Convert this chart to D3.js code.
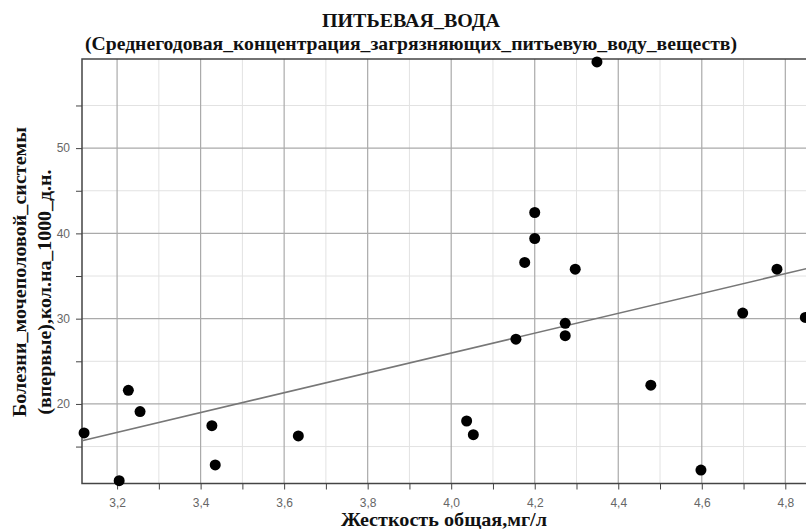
<!DOCTYPE html>
<html>
<head>
<meta charset="utf-8">
<script src="https://cdn.jsdelivr.net/npm/d3@7"></script>
<style>
  body { margin: 0; background: #fff; }
  svg { display: block; }
  .title, .axis-label { font-family: "Liberation Serif", "Times New Roman", serif; font-weight: bold; fill: #111; }
  .tick text { font-family: "Liberation Sans Narrow", "Liberation Sans", Arial, sans-serif; font-size: 12px; fill: #666; }
</style>
</head>
<body>
<svg></svg>
<script>
const svgWidth = 806;
const svgHeight = 529;
const svg = d3.select("svg").attr("width", svgWidth).attr("height", svgHeight);

// hardness, mg/l
const hardness = [3.121, 3.205, 3.227, 3.255, 3.427, 3.435, 3.634, 4.037, 4.053, 4.155, 4.176,
  4.200, 4.200, 4.273, 4.273, 4.297, 4.349, 4.478, 4.598, 4.698, 4.780, 4.848];
// new cases per 1000
const disease = [16.6, 11.0, 21.6, 19.1, 17.45, 12.85, 16.25, 18.0, 16.4, 27.6, 36.6,
  42.45, 39.4, 29.45, 28.0, 35.8, 60.1, 22.2, 12.25, 30.65, 35.8, 30.15];

const xTicks = [3.2, 3.4, 3.6, 3.8, 4.0, 4.2, 4.4, 4.6, 4.8];
const xMinor = [3.3, 3.5, 3.7, 3.9, 4.1, 4.3, 4.5, 4.7];
const yTicks = [20, 30, 40, 50];
const yMinor = [15, 25, 35, 45, 55];

const data = hardness.map((h, i) => ({h, d: disease[i]}));

const plot = {left: 82, right: 830, top: 59, bottom: 483.5};

const x = d3.scaleLinear().domain([3.116, 4.907]).range([plot.left, plot.right]);
const y = d3.scaleLinear().domain([10.67, 60.45]).range([plot.bottom, plot.top]);

// grid
const grid = svg.append("g");
grid.selectAll(".vminor").data(xMinor).join("line")
    .attr("x1", d => x(d)).attr("x2", d => x(d))
    .attr("y1", plot.top).attr("y2", plot.bottom)
    .attr("stroke", "#e2e2e2").attr("stroke-width", 1);
grid.selectAll(".hminor").data(yMinor).join("line")
    .attr("x1", plot.left).attr("x2", plot.right)
    .attr("y1", d => y(d)).attr("y2", d => y(d))
    .attr("stroke", "#e2e2e2").attr("stroke-width", 1);
grid.selectAll(".vmajor").data(xTicks).join("line")
    .attr("x1", d => x(d)).attr("x2", d => x(d))
    .attr("y1", plot.top).attr("y2", plot.bottom)
    .attr("stroke", "#aaa").attr("stroke-width", 1.2);
grid.selectAll(".hmajor").data(yTicks).join("line")
    .attr("x1", plot.left).attr("x2", plot.right)
    .attr("y1", d => y(d)).attr("y2", d => y(d))
    .attr("stroke", "#aaa").attr("stroke-width", 1.2);

// frame
svg.append("rect")
    .attr("x", plot.left).attr("y", plot.top)
    .attr("width", plot.right - plot.left).attr("height", plot.bottom - plot.top)
    .attr("fill", "none").attr("stroke", "#444").attr("stroke-width", 1.5);

// axes
const fmt = d3.format(".1f");
svg.append("g")
    .attr("transform", `translate(0,${plot.bottom})`)
    .call(d3.axisBottom(x).tickValues(xTicks.concat(xMinor).sort()).tickSize(6).tickPadding(9)
        .tickFormat(d => xTicks.includes(d) ? fmt(d).replace(".", ",") : ""))
    .call(g => g.select(".domain").remove())
    .call(g => g.selectAll(".tick line").attr("stroke", "#444"));

svg.append("g")
    .attr("transform", `translate(${plot.left},0)`)
    .call(d3.axisLeft(y).tickValues(yTicks.concat(yMinor)).tickSize(6).tickPadding(6)
        .tickFormat(d => yTicks.includes(d) ? d : ""))
    .call(g => g.select(".domain").remove())
    .call(g => g.selectAll(".tick line").attr("stroke", "#444"));

// trend line (least squares)
const mx = d3.mean(hardness), my = d3.mean(disease);
const slope = d3.sum(data, p => (p.h - mx) * (p.d - my)) / d3.sum(data, p => (p.h - mx) ** 2);
const fit = v => my + slope * (v - mx);
svg.append("line")
    .attr("x1", x(3.116)).attr("y1", y(fit(3.116)))
    .attr("x2", x(4.907)).attr("y2", y(fit(4.907)))
    .attr("stroke", "#777").attr("stroke-width", 1.6);

// points
svg.append("g").selectAll("circle").data(data).join("circle")
    .attr("cx", d => x(d.h)).attr("cy", d => y(d.d))
    .attr("r", 5.5).attr("fill", "#000");

// titles
svg.append("text").attr("class", "title")
    .attr("x", 411).attr("y", 27).attr("text-anchor", "middle")
    .attr("textLength", 178).attr("lengthAdjust", "spacingAndGlyphs")
    .style("font-size", "18px").text("ПИТЬЕВАЯ_ВОДА");
svg.append("text").attr("class", "title")
    .attr("x", 411).attr("y", 50).attr("text-anchor", "middle")
    .attr("textLength", 652).attr("lengthAdjust", "spacingAndGlyphs")
    .style("font-size", "19px")
    .text("(Среднегодовая_концентрация_загрязняющих_питьевую_воду_веществ)");

svg.append("text").attr("class", "axis-label")
    .attr("x", 444).attr("y", 526).attr("text-anchor", "middle")
    .attr("textLength", 206).attr("lengthAdjust", "spacingAndGlyphs")
    .style("font-size", "19px").text("Жесткость  общая,мг/л");

svg.append("text").attr("class", "axis-label")
    .attr("transform", "translate(26,272) rotate(-90)")
    .attr("text-anchor", "middle").style("font-size", "19px")
    .attr("textLength", 290).attr("lengthAdjust", "spacingAndGlyphs")
    .text("Болезни_мочеполовой_системы");
svg.append("text").attr("class", "axis-label")
    .attr("transform", "translate(51,292) rotate(-90)")
    .attr("text-anchor", "middle").style("font-size", "19px")
    .attr("textLength", 245).attr("lengthAdjust", "spacingAndGlyphs")
    .text("(впервые),кол.на_1000_д.н.");
</script>
</body>
</html>
